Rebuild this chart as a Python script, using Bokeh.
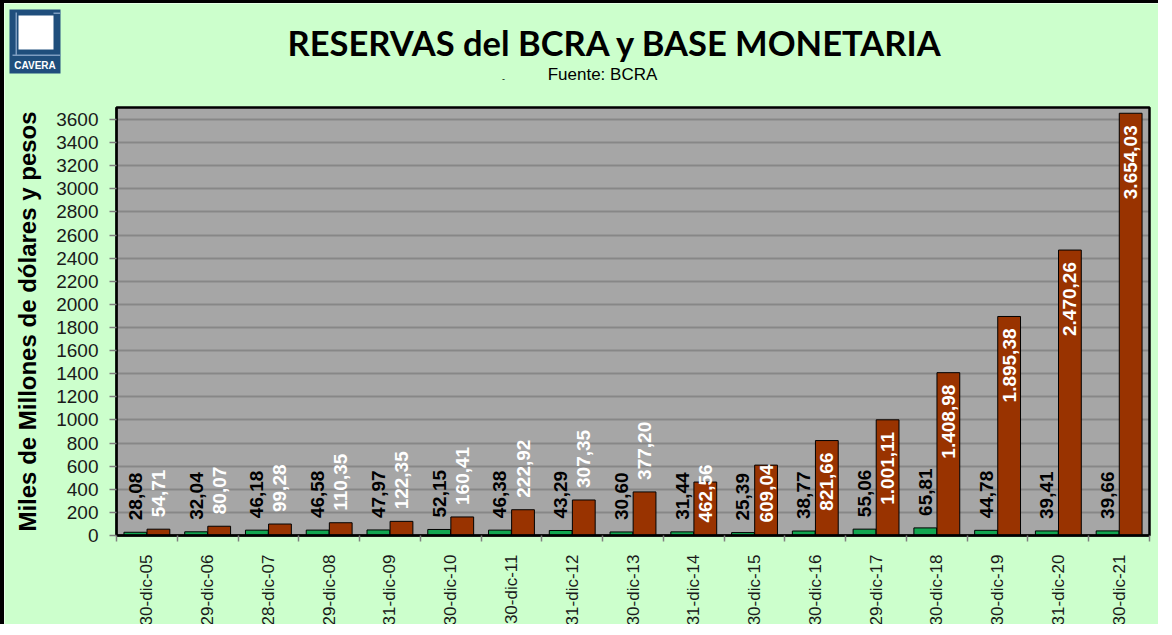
import math
from bokeh.plotting import figure
from bokeh.models import Range1d, FixedTicker, ColumnDataSource, LinearAxis, Grid
from bokeh.core.properties import value
from bokeh.transform import dodge
from bokeh.embed import file_html
from bokeh.resources import INLINE

# ---------------- data ----------------
fechas = ["30-dic-05", "29-dic-06", "28-dic-07", "29-dic-08", "31-dic-09", "30-dic-10",
          "30-dic-11", "31-dic-12", "30-dic-13", "31-dic-14", "30-dic-15", "30-dic-16",
          "29-dic-17", "30-dic-18", "30-dic-19", "31-dic-20", "30-dic-21"]
reservas = [28.08, 32.04, 46.18, 46.58, 47.97, 52.15, 46.38, 43.29, 30.60, 31.44,
            25.39, 38.77, 55.06, 65.81, 44.78, 39.41, 39.66]
base_monetaria = [54.71, 80.07, 99.28, 110.35, 122.35, 160.41, 222.92, 307.35, 377.20,
                  462.56, 609.04, 821.66, 1001.11, 1408.98, 1895.38, 2470.26, 3654.03]
y_ticks = list(range(0, 3601, 200))

titulo = "RESERVAS del BCRA y BASE MONETARIA"
subtitulo = "Fuente: BCRA"
eje_y = "Miles de Millones de dólares y pesos"

# ---------------- layout (page pixels) ----------------
OX, OY = 12, 11                 # canvas origin on the page (after css border)
W, H = 1158, 624
PL, PR, PT, PB = 124, 1157, 115, 543     # plot area on the page
N = len(fechas)
SX = (PR - PL) / N                       # px per category
PXU = 416.0 / 3600.0                     # px per data unit
UPP = 1.0 / PXU
X0 = -0.5 - (PL - OX) / SX
X1 = N - 0.5 + (OX + W - PR) / SX
Y0 = -(OY + H - PB) * UPP
Y1 = (PB - OY) * UPP
Y_TOP = (PB - PT) * UPP

GREEN = "#12a650"
BROWN = "#993300"
BG = "#ccffcc"
GRAY = "#a6a6a6"

p = figure(width=W, height=H, output_backend="svg", toolbar_location=None,
           x_range=Range1d(X0, X1), y_range=Range1d(Y0, Y1),
           x_axis_type=None, y_axis_type=None,
           min_border=0, min_border_left=0, min_border_right=0,
           min_border_top=0, min_border_bottom=0,
           background_fill_color=BG, border_fill_color=BG, outline_line_color=None,
           styles={"border-left": "4px solid black", "border-top": "3px solid black"})
p.extra_x_ranges = {"page": Range1d(OX, OX + W)}
p.extra_y_ranges = {"page": Range1d(OY + H, OY)}

# plot area background (below grid)
p.quad(left=[-0.5], right=[N - 0.5], bottom=[0], top=[Y_TOP], fill_color=GRAY,
       line_color=None, level="image")

# grid lines
grid = Grid(dimension=1, ticker=FixedTicker(ticks=y_ticks),
            grid_line_color="#878787", grid_line_width=2)
if "cross_bounds" in Grid.properties():
    grid.cross_bounds = (-0.5, N - 0.5)
    p.add_layout(grid)
else:
    p.segment(x0=[-0.5] * len(y_ticks), x1=[N - 0.5] * len(y_ticks), y0=y_ticks,
              y1=y_ticks, line_color="#878787", line_width=2, level="underlay")

idx = list(range(N))

def fmt(v):
    s = f"{v:,.2f}"
    return s.replace(",", "X").replace(".", ",").replace("X", ".")

FS = 19
def text_len(s):
    n_d = sum(c.isdigit() for c in s)
    n_p = len(s) - n_d
    return FS * (0.556 * n_d + 0.278 * n_p)

src = ColumnDataSource(dict(x=idx, res=reservas, base=base_monetaria))
p.vbar(x=dodge("x", -0.19, range=p.x_range), top="res", width=0.375, source=src,
       fill_color=GREEN, line_color="black", line_width=1)
p.vbar(x=dodge("x", 0.19, range=p.x_range), top="base", width=0.375, source=src,
       fill_color=BROWN, line_color="black", line_width=1)

# plot area outline
p.quad(left=[-0.5], right=[N - 0.5], bottom=[0], top=[Y_TOP], fill_color=None,
       line_color="black", line_width=2.5)

# labels for reservas (black, outside end)
res_lbl = ColumnDataSource(dict(x=idx, y=[v + 12 * UPP for v in reservas],
                                t=[fmt(v) for v in reservas]))
p.text(x=dodge("x", -0.19, range=p.x_range), y="y", text="t", source=res_lbl,
       angle=math.pi / 2, text_align="left", text_baseline="middle",
       text_font=value("Liberation Sans"), text_font_style="bold",
       text_font_size=f"{FS}px", text_color="black")

# labels for base monetaria (white)
out_x, out_y, out_t, in_x, in_y, in_t = [], [], [], [], [], []
for i, v in enumerate(base_monetaria):
    s = fmt(v)
    if v * PXU < 50:
        out_x.append(i); out_y.append(v + 12 * UPP); out_t.append(s)
    else:
        top = max(v - 12 * UPP, (13 + text_len(s)) * UPP)
        in_x.append(i); in_y.append(top); in_t.append(s)

p.text(x=dodge("x", 0.19, range=p.x_range), y="y", text="t",
       source=ColumnDataSource(dict(x=out_x, y=out_y, t=out_t)),
       angle=math.pi / 2, text_align="left", text_baseline="middle",
       text_font=value("Liberation Sans"), text_font_style="bold",
       text_font_size=f"{FS}px", text_color="white")
p.text(x=dodge("x", 0.19, range=p.x_range), y="y", text="t",
       source=ColumnDataSource(dict(x=in_x, y=in_y, t=in_t)),
       angle=math.pi / 2, text_align="right", text_baseline="middle",
       text_font=value("Liberation Sans"), text_font_style="bold",
       text_font_size=f"{FS}px", text_color="white")

# ---------------- axes ----------------
xa = LinearAxis(fixed_location=0, bounds=(-0.5, N - 0.5),
                ticker=FixedTicker(ticks=idx, minor_ticks=[i - 0.5 for i in range(N + 1)]))
xa.major_label_overrides = {i: f for i, f in enumerate(fechas)}
xa.major_label_orientation = math.pi / 2
xa.major_tick_out = 0
xa.major_tick_in = 0
xa.minor_tick_out = 6
xa.minor_tick_in = 0
xa.minor_tick_line_color = "#808080"
xa.minor_tick_line_width = 1.5
xa.axis_line_color = "black"
xa.axis_line_width = 2
xa.major_label_standoff = 13
xa.major_label_text_font = "Liberation Sans"
xa.major_label_text_font_size = "17px"
xa.major_label_text_color = "#1a1a1a"
p.add_layout(xa, "below")

ya = LinearAxis(fixed_location=-0.5, bounds=(0, Y_TOP), ticker=FixedTicker(ticks=y_ticks))
ya.major_tick_out = 7
ya.major_tick_in = 0
ya.major_tick_line_color = "#808080"
ya.major_tick_line_width = 1.5
ya.minor_tick_line_color = None
ya.axis_line_color = "black"
ya.axis_line_width = 2
ya.major_label_standoff = 11
ya.major_label_text_font = "Liberation Sans"
ya.major_label_text_font_size = "19px"
ya.major_label_text_color = "#1a1a1a"
ya.axis_label = eje_y
ya.axis_label_text_font = "Liberation Sans"
ya.axis_label_text_font_style = "bold"
ya.axis_label_text_font_size = "24px"
ya.axis_label_text_color = "black"
ya.axis_label_standoff = 12
p.add_layout(ya, "left")

# ---------------- header: logo and titles (page coordinates) ----------------
pg = dict(x_range_name="page", y_range_name="page")
p.quad(left=[17], right=[68], top=[17], bottom=[81], fill_color="#1f4e7c",
       line_color=None, **pg)
p.quad(left=[23, 20, 61], right=[24.5, 68, 68], top=[20, 62, 20], bottom=[63, 63.5, 21.5],
       fill_color="#7d9cc0", line_color=None, **pg)
p.quad(left=[26], right=[61], top=[23], bottom=[57], fill_color="white",
       line_color=None, **pg)
p.text(x=[42.5], y=[72.5], text=["CAVERA"], text_align="center", text_baseline="middle",
       text_font=value("Liberation Sans"), text_font_style="bold",
       text_font_size="10px", text_color="white", **pg)

p.text(x=[623], y=[50], text=[titulo], text_align="center", text_baseline="middle",
       text_font=value("Lato"), text_font_style="bold", text_font_size="34.5px",
       text_color="black", **pg)
p.text(x=[610], y=[82], text=[subtitulo], text_align="center", text_baseline="middle",
       text_font=value("Liberation Sans"), text_font_size="17px", text_color="black", **pg)
p.text(x=[511], y=[86], text=["-"], text_align="center", text_baseline="middle",
       text_font=value("Liberation Sans"), text_font_size="9px", text_color="black", **pg)

open("out.html", "w").write(file_html(p, INLINE))
